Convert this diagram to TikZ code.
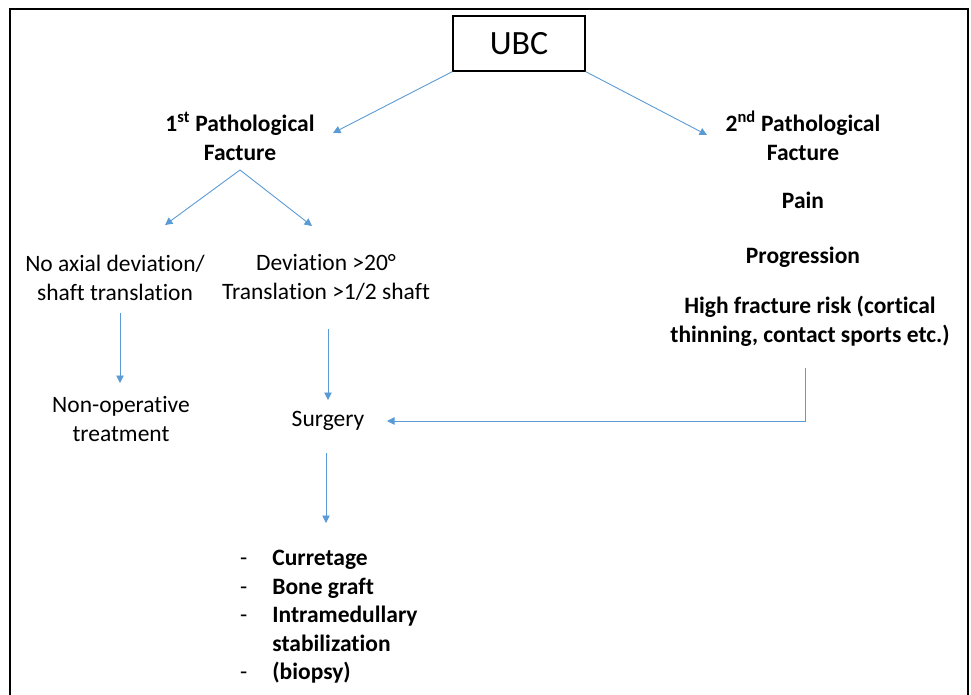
\documentclass[tikz,border=0pt]{standalone}
\usepackage{fontspec}
\setmainfont{Carlito}[Ligatures={NoCommon}]
\usetikzlibrary{arrows.meta}
\definecolor{arrblue}{HTML}{5B9BD5}
\tikzset{
  conn/.style={draw=arrblue, line width=0.9pt, -{Triangle[width=7.5pt,length=7.5pt]}},
  txt/.style={align=center, inner sep=0pt, font=\fontsize{23.5}{29}\selectfont},
  btxt/.style={txt, font=\fontsize{23.5}{29}\selectfont\bfseries},
}
\begin{document}
\begin{tikzpicture}[x=1pt,y=-1pt]
\useasboundingbox (0,0) rectangle (971,695);
\draw[line width=1.5pt] (10,695) -- (10,9) -- (968,9) -- (968,695);
\node[draw, line width=1.2pt, minimum width=132pt, minimum height=55pt, inner sep=0pt, font=\fontsize{34}{40}\selectfont] (ubc) at (519,43.5) {UBC};
\node[btxt] (p1) at (240,136) {1\textsuperscript{st} Pathological\\Facture};
\node[btxt] (p2) at (803,136) {2\textsuperscript{nd} Pathological\\Facture};
\node[btxt] (pain) at (803,200) {Pain};
\node[btxt] (prog) at (803,257) {Progression};
\node[btxt] (risk) at (810,321) {High fracture risk (cortical\\thinning, contact sports etc.)};
\node[txt] (noax) at (115,277.5) {No axial deviation/\\shaft translation};
\node[txt] (dev) at (326,277.5) {Deviation >20°\\Translation >1/2 shaft};
\node[txt] (nonop) at (121,419) {Non-operative\\treatment};
\node[txt] (surg) at (328,421) {Surgery};
\node[txt, anchor=north west, align=left] (list) at (240,545) {%
\begin{tabular}{@{}l@{\hspace{25pt}}l@{}}
-&\textbf{Curretage}\\[-0.5pt]
-&\textbf{Bone graft}\\[-0.5pt]
-&\textbf{Intramedullary}\\[-0.5pt]
&\textbf{stabilization}\\[-0.5pt]
-&\textbf{(biopsy)}
\end{tabular}};
\coordinate (p1tip) at (333,133);
\coordinate (p2tip) at (707,135);
\coordinate (apex) at (240,170);
\coordinate (noaxtip) at (165,225);
\coordinate (devtip) at (312,226);
\coordinate (noaxbot) at (120,313);
\coordinate (nonoptop) at (120,383);
\coordinate (devbot) at (328,329);
\coordinate (surgtop) at (328,400);
\coordinate (riskbot) at (805,368);
\coordinate (corner) at (805,421);
\coordinate (surgright) at (387,421);
\coordinate (surgbot) at (326,453);
\coordinate (listtop) at (326,523);
\draw[conn] (ubc.south west) -- (p1tip);
\draw[conn] (ubc.south east) -- (p2tip);
\draw[conn] (apex) -- (noaxtip);
\draw[conn] (apex) -- (devtip);
\draw[conn] (noaxbot) -- (nonoptop);
\draw[conn] (devbot) -- (surgtop);
\draw[conn] (riskbot) -- (corner) -- (surgright);
\draw[conn] (surgbot) -- (listtop);
\end{tikzpicture}
\end{document}
